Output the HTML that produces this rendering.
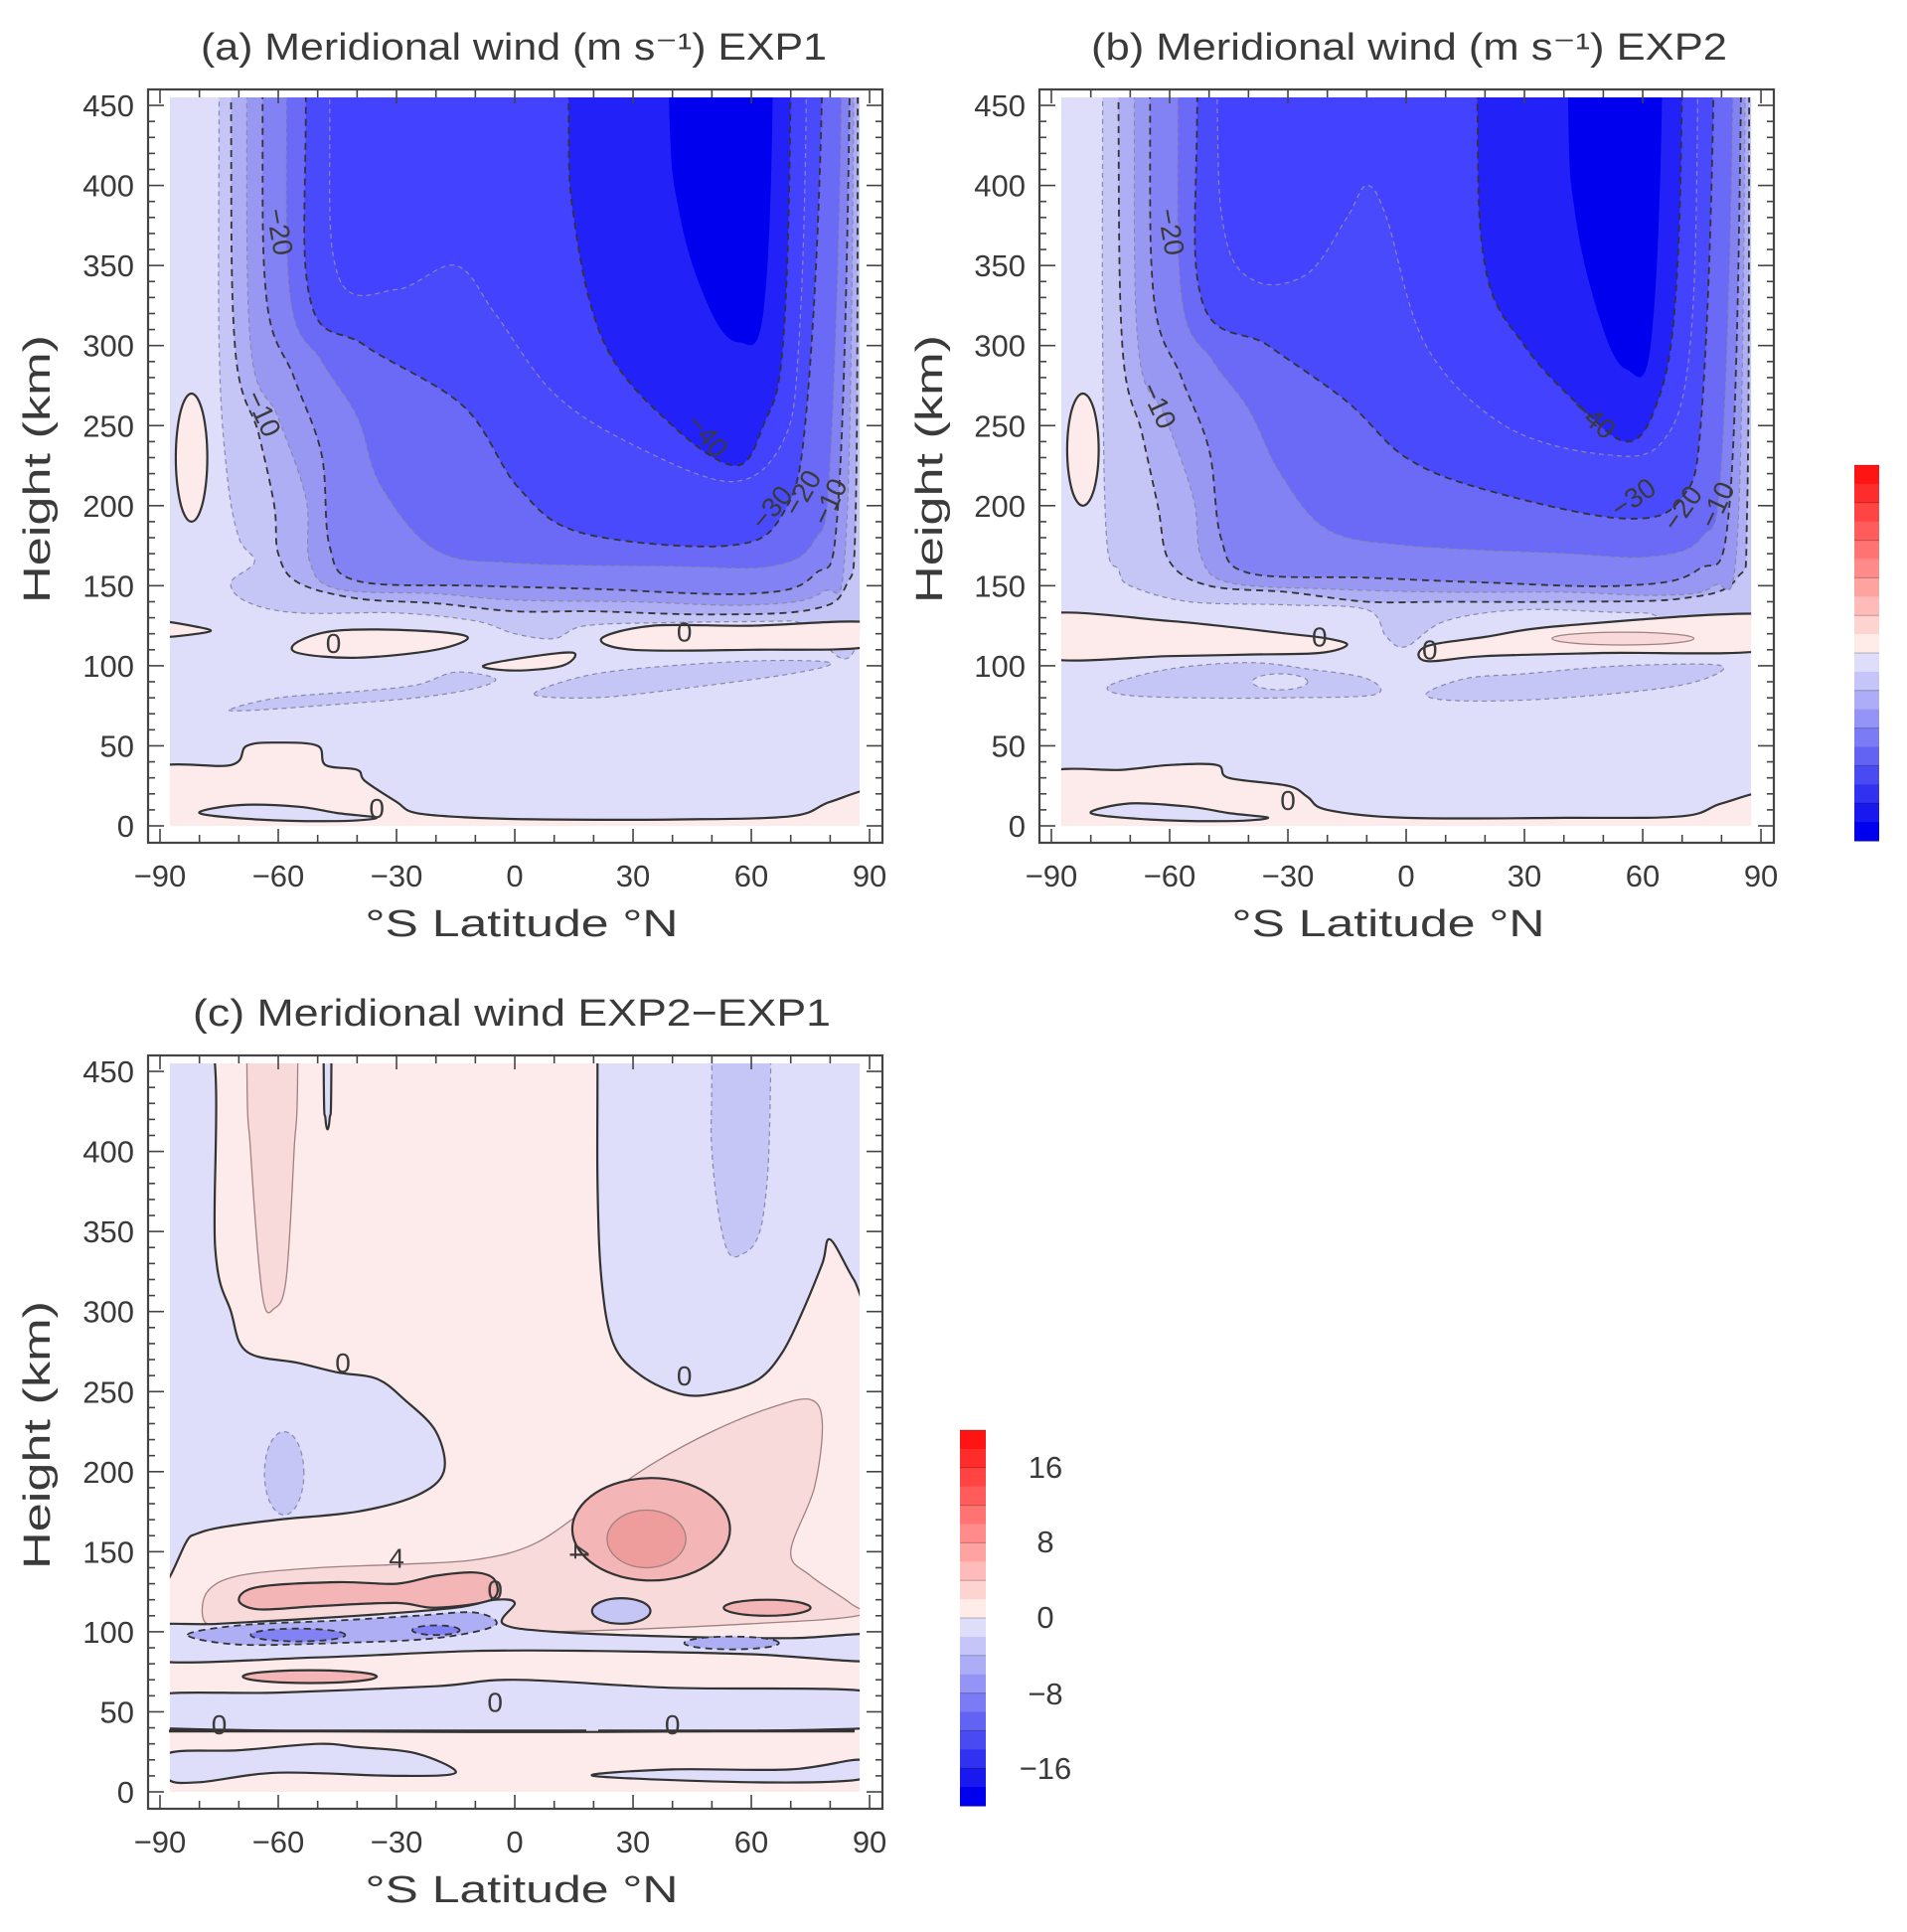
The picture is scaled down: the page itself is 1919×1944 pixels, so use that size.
<!DOCTYPE html>
<html><head><meta charset="utf-8">
<style>
html,body{margin:0;padding:0;background:#fff;}
svg{display:block;}
text{font-family:"Liberation Sans","DejaVu Sans",sans-serif;fill:#3a3a3a;}
</style></head>
<body>
<svg id="s" width="1919" height="1944" xmlns="http://www.w3.org/2000/svg">
<text x="517" y="60" font-size="38" text-anchor="middle" textLength="630" lengthAdjust="spacingAndGlyphs">(a) Meridional wind (m s⁻¹)  EXP1</text>
<text x="1418" y="60" font-size="38" text-anchor="middle" textLength="640" lengthAdjust="spacingAndGlyphs">(b) Meridional wind (m s⁻¹)  EXP2</text>
<text x="515" y="1032" font-size="38" text-anchor="middle" textLength="642" lengthAdjust="spacingAndGlyphs">(c) Meridional wind   EXP2−EXP1</text>
<text x="525" y="942" font-size="38" text-anchor="middle" textLength="315" lengthAdjust="spacingAndGlyphs">°S   Latitude   °N</text>
<text x="1397" y="942" font-size="38" text-anchor="middle" textLength="315" lengthAdjust="spacingAndGlyphs">°S   Latitude   °N</text>
<text x="525" y="1914" font-size="38" text-anchor="middle" textLength="315" lengthAdjust="spacingAndGlyphs">°S   Latitude   °N</text>
<text transform="translate(50,472) rotate(-90)" font-size="38" text-anchor="middle" textLength="270" lengthAdjust="spacingAndGlyphs">Height (km)</text>
<text transform="translate(948,472) rotate(-90)" font-size="38" text-anchor="middle" textLength="270" lengthAdjust="spacingAndGlyphs">Height (km)</text>
<text transform="translate(50,1444) rotate(-90)" font-size="38" text-anchor="middle" textLength="270" lengthAdjust="spacingAndGlyphs">Height (km)</text>
<g id="g"></g>
</svg>
<script>
var NS="http://www.w3.org/2000/svg",G=document.getElementById("g");
function el(t,a,par){var e=document.createElementNS(NS,t);for(var k in a)e.setAttribute(k,a[k]);(par||G).appendChild(e);return e;}
var P={a:{x0:161,y0:831},b:{x0:1058,y0:831},c:{x0:161,y0:1803}};
function px(p,lat,h){return [p.x0+(lat+90)*3.967,p.y0-h*1.611];}
function path(p,pts){pts=pts.slice();var n0=pts.length;
if(pts[0][1]>=470&&pts[n0-1][1]>=470){pts.unshift([pts[0][0],800]);pts.push([pts[pts.length-1][0],800]);}
var q=pts.map(function(v){return px(p,v[0],v[1]);});var n=q.length,d="M"+q[0][0].toFixed(1)+","+q[0][1].toFixed(1);
for(var i=0;i<n;i++){var p0=q[(i-1+n)%n],p1=q[i],p2=q[(i+1)%n],p3=q[(i+2)%n];
var c1=[p1[0]+(p2[0]-p0[0])/6,p1[1]+(p2[1]-p0[1])/6],c2=[p2[0]-(p3[0]-p1[0])/6,p2[1]-(p3[1]-p1[1])/6];
d+="C"+c1[0].toFixed(1)+","+c1[1].toFixed(1)+" "+c2[0].toFixed(1)+","+c2[1].toFixed(1)+" "+p2[0].toFixed(1)+","+p2[1].toFixed(1);}
return d+"Z";}
function ell(cx,cy,rx,ry){var r=[];for(var i=0;i<16;i++){var t=i/16*2*Math.PI;r.push([cx+rx*Math.cos(t),cy+ry*Math.sin(t)]);}return r;}
var DK={stroke:"#333","stroke-width":1.8,"stroke-dasharray":"7,5"},GR={stroke:"#8888aa","stroke-width":1.2,"stroke-dasharray":"5,4"},SO={stroke:"#333","stroke-width":2.2},TH={stroke:"#a08080","stroke-width":1.3};
function panel(key,shapes,id){var p=P[key];
var cp=el("clipPath",{id:"cl"+id});var a=px(p,-87.5,455),b=px(p,87.5,0);
el("rect",{x:a[0],y:a[1],width:b[0]-a[0],height:b[1]-a[1]},cp);
var g=el("g",{"clip-path":"url(#cl"+id+")"});
shapes.forEach(function(s){if(s.rect){el("rect",{x:a[0],y:a[1],width:b[0]-a[0],height:b[1]-a[1],fill:s.fill},g);return;}
var at={d:path(p,s.p),fill:s.f||"none"};var st=s.s||{};for(var k in st)at[k]=st[k];el("path",at,g);});
var fx=p.x0-12,fy=p.y0-741,fw=739,fh=758;
el("rect",{x:fx,y:fy,width:fw,height:fh,fill:"none",stroke:"#444","stroke-width":2.2});
for(var lat=-90;lat<=90;lat+=10){var x=p.x0+(lat+90)*3.967,L=(lat%30==0)?14:8;
el("line",{x1:x,y1:fy+fh,x2:x,y2:fy+fh-L,stroke:"#444","stroke-width":1.6});
el("line",{x1:x,y1:fy,x2:x,y2:fy+L,stroke:"#444","stroke-width":1.6});
if(lat%30==0){var t=el("text",{x:x,y:p.y0+61,"font-size":31,"text-anchor":"middle"});t.textContent=(lat<0?"\u2212":"")+Math.abs(lat);}}
for(var h=0;h<=450;h+=10){var y=p.y0-h*1.611,L=(h%50==0)?16:7;
el("line",{x1:fx,y1:y,x2:fx+L,y2:y,stroke:"#444","stroke-width":1.6});
el("line",{x1:fx+fw,y1:y,x2:fx+fw-L,y2:y,stroke:"#444","stroke-width":1.6});
if(h%50==0){var t=el("text",{x:fx-14,y:y+11,"font-size":31,"text-anchor":"end"});t.textContent=h;}}
}
function lbl(key,lat,h,txt,rot){var q=px(P[key],lat,h);var t=el("text",{x:q[0],y:q[1],"font-size":28,"text-anchor":"middle","transform":"rotate("+(rot||0)+" "+q[0]+" "+q[1]+")"});t.textContent=txt;}
var B0="#dedefa",B1="#c6c6f6",B2="#aeaef4",B3="#9898f3",B4="#8282f5",B5="#6a6af7",B6="#4a4afd",B7="#4242ff",B8="#2222f8",B9="#0000ee",P1="#fcebea",P2="#f8dada",P3="#f3b5b5",P4="#ee9c9c";
var A=[{rect:1,fill:B0},
{p:[[-75,470],[-75,300],[-73,220],[-70,180],[-66,165],[-72,152],[-68,140],[-55,133],[-30,133],[-10,128],[0,120],[10,117],[18,125],[40,127],[70,128],[88,130],[88,470]],f:B1,s:GR},
{p:[[-72,470],[-71,300],[-65,245],[-61,200],[-60,170],[-55,152],[-40,142],[-20,139],[0,134],[20,134],[50,132],[75,135],[84,150],[86.5,200],[87,470]],f:B2,s:DK},
{p:[[-68,470],[-67,300],[-60,255],[-53,205],[-52,165],[-45,148],[-20,145],[0,141],[30,140],[60,138],[78,146],[84,180],[86,470]],f:B3,s:GR},
{p:[[-64,470],[-63,330],[-56,280],[-49,232],[-47,175],[-40,153],[-10,150],[20,148],[60,145],[76,157],[82,200],[85,470]],f:B4,s:DK},
{p:[[-58,470],[-57,330],[-49,290],[-40,255],[-34,212],[-20,172],[0,164],[40,162],[65,162],[76,178],[80,225],[83,470]],f:B5,s:GR},
{p:[[-53,470],[-52,330],[-38,300],[-13,262],[1,211],[17,183],[54,175],[68,195],[74,260],[78,470]],f:B6,s:DK},
{p:[[-47,470],[-45,345],[-30,335],[-15,350],[-5,320],[10,270],[30,238],[55,215],[68,240],[72,300],[74,470]],f:B7,s:GR},
{p:[[13.6,470],[15,380],[23,300],[40,250],[56,225],[63,250],[68,300],[70,470]],f:B8,s:DK},
{p:[[39,470],[42,380],[50,320],[57,302],[63,320],[65.5,470]],f:B9},
{p:ell(-82,230,4,40),f:P1,s:SO},
{p:[[-55,115],[-45,122],[-25,122],[-12,118],[-20,110],[-40,105],[-55,108]],f:P1,s:SO},
{p:[[-8,100],[5,106],[15,108],[12,100],[0,97]],f:P1,s:SO},
{p:[[22,117],[35,125],[60,125],[90,127],[90,112],[60,110],[30,110]],f:P1,s:SO},
{p:[[-92,118],[-92,128],[-80,124],[-78,121]],f:P1,s:SO},
{p:[[-72,73],[-60,80],[-40,84],[-25,88],[-15,96],[-5,92],[-10,86],[-25,80],[-50,75],[-68,72]],f:B1,s:GR},
{p:[[5,82],[15,92],[30,98],[60,103],[80,102],[70,95],[40,85],[20,80]],f:B1,s:GR},
{p:[[-92,-5],[-92,35],[-72,38],[-68,50],[-60,52],[-50,50],[-48,38],[-40,35],[-38,28],[-30,15],[-25,8],[-10,5],[10,4],[40,4],[70,6],[80,15],[92,22],[92,-5]],f:P1,s:SO},
{p:[[-80,8],[-70,13],[-55,12],[-45,8],[-35,5],[-45,3],[-65,4]],f:B0,s:SO}];
var Bp=[{rect:1,fill:B0},
{p:[[-77,470],[-77,300],[-76,180],[-73,160],[-70,150],[-55,140],[-30,138],[-10,135],[-5,118],[0,112],[10,128],[30,135],[60,133],[88,135],[88,470]],f:B1,s:GR},
{p:[[-73,470],[-72,300],[-67,245],[-63,200],[-60,165],[-50,150],[-30,146],[-10,140],[10,140],[40,140],[70,142],[84,155],[86.5,200],[87,470]],f:B2,s:DK},
{p:[[-69,470],[-68,300],[-61,255],[-54,205],[-52,168],[-45,152],[-20,148],[10,146],[40,146],[65,144],[78,150],[84,180],[86,470]],f:B3,s:GR},
{p:[[-65,470],[-64,330],[-57,280],[-50,235],[-47,180],[-40,158],[-10,155],[20,152],[55,150],[74,160],[82,200],[85,470]],f:B4,s:DK},
{p:[[-58,470],[-57,330],[-49,290],[-40,260],[-32,220],[-20,185],[0,175],[40,170],[62,168],[75,180],[80,225],[83,470]],f:B5,s:GR},
{p:[[-53,470],[-52,330],[-35,300],[-15,265],[0,230],[20,210],[55,192],[70,205],[75,260],[78,470]],f:B6,s:DK},
{p:[[-48,470],[-46,370],[-38,340],[-25,345],[-15,380],[-10,400],[-5,380],[5,300],[25,250],[50,232],[65,240],[72,300],[74,470]],f:B7,s:GR},
{p:[[18,470],[20,350],[30,300],[45,260],[56,240],[63,260],[68,320],[70,470]],f:B8,s:DK},
{p:[[41,470],[43,380],[50,310],[56,285],[62,300],[65,470]],f:B9},
{p:ell(-82,235,4,35),f:P1,s:SO},
{p:[[-92,105],[-92,132],[-60,128],[-30,120],[-20,117],[-15,113],[-22,108],[-40,107],[-60,106]],f:P1,s:SO},
{p:[[5,103],[5,112],[20,118],[40,125],[92,132],[92,110],[50,108],[20,106]],f:P1,s:SO},
{p:ell(55,117,18,4),f:P2,s:TH},
{p:[[-75,88],[-60,98],[-40,102],[-25,98],[-10,92],[-8,82],[-30,80],[-55,80],[-72,82]],f:B1,s:GR},
{p:ell(-32,90,7,5),f:B0,s:GR},
{p:[[5,82],[15,92],[30,95],[55,100],[80,100],[70,88],[40,80],[15,78]],f:B1,s:GR},
{p:[[-92,-5],[-92,32],[-72,35],[-60,38],[-48,38],[-45,30],[-30,25],[-25,18],[-20,10],[0,5],[40,5],[70,6],[80,14],[92,20],[92,-5]],f:P1,s:SO},
{p:[[-80,8],[-70,14],[-55,12],[-45,8],[-35,5],[-45,3],[-65,4]],f:B0,s:SO}];
var C=[{rect:1,fill:P1},
{p:[[-92,470],[-77,470],[-76,340],[-72,300],[-68,275],[-55,268],[-45,262],[-35,258],[-28,245],[-20,225],[-18,200],[-25,185],[-40,175],[-60,170],[-75,165],[-82,160],[-92,150]],f:B0,s:SO},
{p:ell(-58.5,199,5,26),f:B1,s:GR},
{p:[[-68,470],[-67,400],[-64,310],[-61,302],[-58,320],[-56,400],[-55,470]],f:P2,s:TH},
{p:[[-48.5,470],[-48,420],[-47,420],[-46.5,470]],f:B0,s:SO},
{p:[[21,470],[21,380],[22,320],[25,280],[32,260],[43,248],[53,250],[62,258],[68,275],[73,300],[78,330],[80,345],[86,320],[92,300],[92,470]],f:B0,s:SO},
{p:[[50,470],[50,400],[53,345],[57,335],[63,360],[65,470]],f:B1,s:GR},
{p:[[-79,108],[-78,125],[-70,135],[-50,140],[-30,142],[-10,145],[5,155],[20,180],[35,205],[50,225],[65,240],[75,245],[78,230],[76,190],[70,150],[75,135],[85,118],[87,110],[60,105],[10,100],[-30,100],[-60,102],[-75,104]],f:P2,s:TH},
{p:ell(34.6,164,20,32),f:P3,s:SO},
{p:ell(33.4,158,10,18),f:P4,s:TH},
{p:[[-70,120],[-65,128],[-45,131],[-30,130],[-20,135],[-10,137],[-5,132],[-6,120],[-20,115],[-30,118],[-50,116],[-65,114]],f:P3,s:SO},
{p:ell(64,115,11,5),f:P3,s:SO},
{p:ell(27,113,7.4,8),f:B1,s:SO},
{p:[[-92,82],[-92,103],[-75,105],[-40,110],[-15,115],[-5,120],[0,118],[-3,105],[10,100],[40,97],[70,96],[92,98],[92,82],[60,86],[20,88],[-10,88],[-50,84]],f:B0,s:SO},
{p:[[-83,98],[-70,104],[-45,107],[-25,110],[-10,112],[-5,104],[-20,96],[-45,93],[-70,92]],f:B2,s:DK},
{p:ell(-55,98,12,4),f:B4,s:DK},
{p:ell(-20,101,6,3),f:B4,s:DK},
{p:ell(55,93,12,4),f:B2,s:DK},
{p:ell(-52,72,17,4),f:P3,s:SO},
{p:[[-92,40],[-92,60],[-60,62],[-20,66],[0,70],[40,65],[92,62],[92,40]],f:B0,s:SO},
{p:[[-88,8],[-88,24],[-70,26],[-50,30],[-40,28],[-25,24],[-15,12],[-30,10],[-60,12],[-80,6]],f:B0,s:SO},
{p:[[20,10],[40,14],[70,14],[88,20],[88,8],[60,6]],f:B0,s:SO}];
panel("a",A,1);panel("b",Bp,2);panel("c",C,3);
el("line",{x1:170,y1:1803-38*1.611,x2:860,y2:1803-38*1.611,stroke:"#333","stroke-width":3,"stroke-dasharray":"400,0,20,12"});
lbl("a",-62,370,"\u221220",80);lbl("a",-66,255,"\u221210",65);lbl("a",47,240,"\u221240",50);lbl("a",67,195,"\u221230",-50);lbl("a",75,205,"\u221220",-60);lbl("a",82,200,"\u221210",-65);lbl("a",-46,108,"0",0);lbl("a",43,115,"0",0);lbl("a",-35,5,"0",0);
lbl("b",-62,370,"\u221220",80);lbl("b",-65,260,"\u221210",65);lbl("b",46,250,"\u221240",40);lbl("b",59,200,"\u221230",-35);lbl("b",72,195,"\u221220",-55);lbl("b",81,198,"\u221210",-65);lbl("b",-22,112,"0",0);lbl("b",6,104,"0",0);lbl("b",-30,10,"0",0);
lbl("c",-43.6,262,"0",0);lbl("c",43,254,"0",0);lbl("c",-30,140,"4",0);lbl("c",14,150,"4",90);lbl("c",-5,120,"0",0);lbl("c",-5,50,"0",0);lbl("c",-75,36,"0",0);lbl("c",40,36,"0",0);
function cbar(x,y,w,h,n,cols,labs){var bh=h/n;for(var i=0;i<n;i++){el("rect",{x:x,y:y+i*bh,width:w,height:bh+0.5,fill:cols[i]});}
for(var i=0;i<=n;i+=2)el("line",{x1:x,y1:y+i*bh,x2:x+w,y2:y+i*bh,stroke:"rgba(0,0,0,0.25)","stroke-width":1});
labs.forEach(function(l){var t=el("text",{x:x+w+60,y:l[1]+11,"font-size":31,"text-anchor":"middle"});t.textContent=l[0];});}
function ramp(){var c=[];for(var i=0;i<10;i++){var f=i/9;c.push("rgb(255,"+Math.round(20+f*215)+","+Math.round(20+f*212)+")");}
for(var i=0;i<10;i++){var f=i/9;c.push("rgb("+Math.round(222-f*222)+","+Math.round(222-f*222)+","+Math.round(250-f*12)+")");}return c;}
cbar(1866,468,25,378,20,ramp(),[["40",504],["20",581],["0",657],["\u221220",732],["\u221240",807]]);
cbar(966,1439,26,378,20,ramp(),[["16",1476],["8",1551],["0",1627],["\u22128",1704],["\u221216",1779]]);
</script>
</body></html>
